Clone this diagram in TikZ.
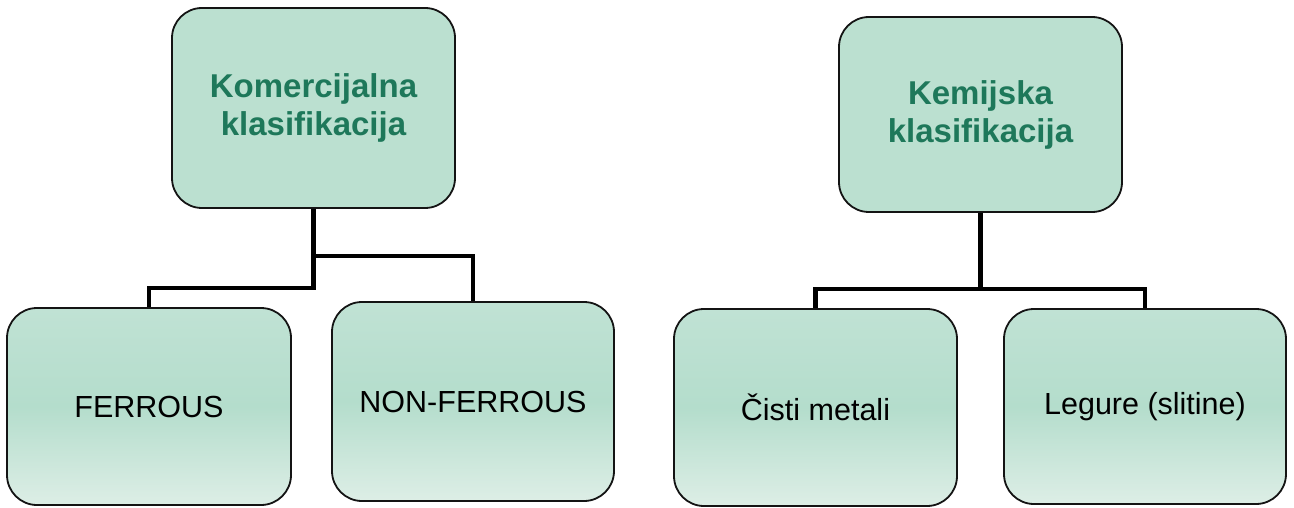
\documentclass[tikz,border=0pt]{standalone}
\usepackage{fontspec}
\setmainfont{Liberation Sans}
\usetikzlibrary{calc}
\definecolor{boxfill}{RGB}{187,224,208}
\definecolor{gtop}{RGB}{192,226,212}
\definecolor{gmid}{RGB}{180,221,204}
\definecolor{gbot}{RGB}{221,238,230}
\definecolor{titlegreen}{RGB}{30,120,90}
\definecolor{edge}{RGB}{20,20,20}
\tikzset{
  topbox/.style={draw=edge, line width=1.8pt, rounded corners=30pt, fill=boxfill,
    inner sep=0pt, align=center, text=titlegreen,
    font=\fontsize{33}{38}\selectfont\bfseries},
  leafbox/.style={draw=edge, line width=1.8pt, rounded corners=30pt,
    top color=gtop, bottom color=gbot, middle color=gmid,
    inner sep=0pt, align=center, text=black,
    font=\fontsize{30.5}{35}\selectfont},
  conn/.style={line width=4.5pt, black, line join=miter}
}
\begin{document}
\begin{tikzpicture}[x=1pt,y=-1pt]
\useasboundingbox (0,0) rectangle (1294,508);
\node[topbox, minimum width=283pt, minimum height=200pt] (kom) at (313.5,108) {Komercijalna\\klasifikacija};
\node[leafbox, minimum width=284pt, minimum height=197pt] (fer) at (149,406.5) {FERROUS};
\node[leafbox, minimum width=282pt, minimum height=199pt] (nonf) at (473,401.5) {NON-FERROUS};
\node[topbox, minimum width=283pt, minimum height=195pt] (kem) at (980.5,114.5) {Kemijska\\klasifikacija};
\node[leafbox, minimum width=283pt, minimum height=197pt] (cis) at (815.5,407.5) {Čisti metali};
\node[leafbox, minimum width=282pt, minimum height=195pt] (leg) at (1145,406.5) {Legure (slitine)};
\draw[conn] (kom.south) |- ($(nonf.north)+(0,-45)$) -- (nonf.north);
\draw[conn] (kom.south) |- ($(fer.north)+(0,-19)$) -- (fer.north);
\draw[conn] (kem.south) |- ($(cis.north)+(0,-19)$) -- (cis.north);
\draw[conn] (kem.south) |- ($(leg.north)+(0,-19)$) -- (leg.north);
\end{tikzpicture}
\end{document}
